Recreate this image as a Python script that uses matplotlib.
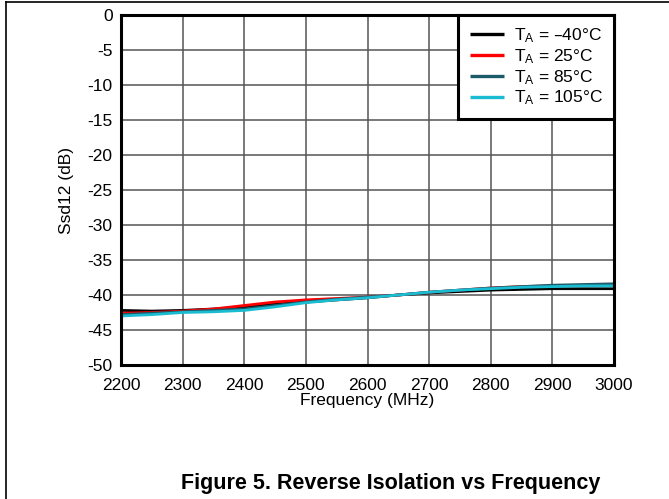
import matplotlib
matplotlib.use("Agg")
import matplotlib.pyplot as plt
from matplotlib.lines import Line2D

plt.rcParams["font.family"] = ["Liberation Sans", "DejaVu Sans"]
plt.rcParams["axes.unicode_minus"] = False
plt.rcParams["mathtext.default"] = "regular"

# Frequency sweep (MHz) and reverse isolation Ssd12 (dB) per temperature
freq = [2200, 2250, 2300, 2350, 2400, 2450, 2500, 2550, 2600,
        2650, 2700, 2750, 2800, 2850, 2900, 2950, 3000]
s_m40 = [-42.2, -42.3, -42.2, -42.0, -41.7, -41.3, -41.0, -40.7, -40.4,
         -40.0, -39.7, -39.5, -39.3, -39.2, -39.1, -39.1, -39.1]
s_25 = [-42.6, -42.5, -42.3, -42.0, -41.5, -41.0, -40.7, -40.5, -40.3,
        -40.0, -39.6, -39.3, -39.0, -38.8, -38.7, -38.6, -38.5]
s_85 = [-42.8, -42.6, -42.4, -42.2, -42.0, -41.5, -41.0, -40.6, -40.3,
        -40.0, -39.6, -39.3, -39.0, -38.8, -38.6, -38.5, -38.4]
s_105 = [-43.0, -42.8, -42.5, -42.4, -42.2, -41.7, -41.1, -40.7, -40.4,
         -40.0, -39.6, -39.3, -39.1, -38.9, -38.8, -38.7, -38.7]

labels = [r"$T_A$ = –40°C", r"$T_A$ = 25°C", r"$T_A$ = 85°C", r"$T_A$ = 105°C"]
colors = ["#000000", "#ff0000", "#1d5a6a", "#19bcd0"]
series = [s_m40, s_25, s_85, s_105]

x_ticks = [2200, 2300, 2400, 2500, 2600, 2700, 2800, 2900, 3000]
y_ticks = [0, -5, -10, -15, -20, -25, -30, -35, -40, -45, -50]

fig = plt.figure(figsize=(6.69, 4.99), dpi=100)
ax = fig.add_axes([121 / 669, 1 - 365 / 499, (614 - 121) / 669, (365 - 15) / 499])

for y, c, lab in zip(series, colors, labels):
    ax.plot(freq, y, color=c, lw=2.0, label=lab, solid_capstyle="butt")

ax.set_xlim(2200, 3000)
ax.set_ylim(-50, 0)
ax.set_xticks(x_ticks)
ax.set_yticks(y_ticks)
ax.set_xticklabels([str(v) for v in x_ticks])
ax.set_yticklabels([str(v) for v in y_ticks])
ax.tick_params(length=0, labelsize=12.5)
ax.tick_params(axis="x", pad=9)
ax.tick_params(axis="y", pad=6)
ax.grid(True, color="#555555", lw=1.1)
ax.set_axisbelow(True)
for s in ax.spines.values():
    s.set_linewidth(2.2)
    s.set_color("black")

ax.set_xlabel("Frequency (MHz)", fontsize=12.5, labelpad=0)
ax.set_ylabel("Ssd12 (dB)", fontsize=12.5, labelpad=10)

leg = ax.legend(loc="upper right", borderaxespad=0, fancybox=False,
                framealpha=1, edgecolor="black", fontsize=12.5,
                handlelength=2.0, handletextpad=0.55, labelspacing=0.12,
                borderpad=0.65)
leg.get_frame().set_linewidth(2.2)
for h in leg.get_lines():
    h.set_linewidth(2.4)

# page frame lines (top and left)
fig.add_artist(Line2D([6 / 669, 6 / 669], [0, 1 - 2 / 499], color="black", lw=1.2))
fig.add_artist(Line2D([6 / 669, 1], [1 - 2 / 499, 1 - 2 / 499], color="black", lw=1.2))

fig.text(391 / 669, 1 - 484 / 499, "Figure 5. Reverse Isolation vs Frequency",
         ha="center", va="center", fontsize=15.5, fontweight="bold")

fig.savefig("out.png", dpi=100)
